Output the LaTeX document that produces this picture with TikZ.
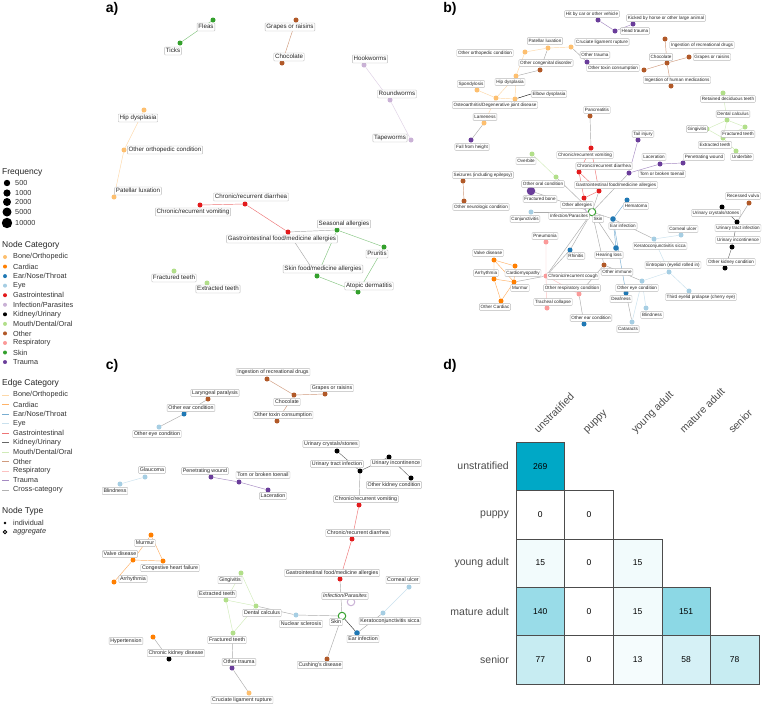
\documentclass[tikz,border=0pt]{standalone}
\usepackage{fontspec}
\setmainfont{Liberation Sans}
\usepackage{tikz}

\definecolor{kBone}{HTML}{FDBF6F}
\definecolor{kCard}{HTML}{FF7F00}
\definecolor{kEnt}{HTML}{1F78B4}
\definecolor{kEye}{HTML}{A6CEE3}
\definecolor{kGI}{HTML}{E31A1C}
\definecolor{kInf}{HTML}{CAB2D6}
\definecolor{kKid}{HTML}{000000}
\definecolor{kMouth}{HTML}{B2DF8A}
\definecolor{kOth}{HTML}{B15928}
\definecolor{kResp}{HTML}{FB9A99}
\definecolor{kSkin}{HTML}{33A02C}
\definecolor{kTrau}{HTML}{6A3D9A}
\definecolor{kHeat}{RGB}{0,168,198}

\pgfdeclarelayer{edges}
\pgfdeclarelayer{labels}
\pgfsetlayers{edges,main,labels}

\tikzset{
  dis/.style={circle, inner sep=0pt, minimum size=5pt, fill=#1},
  agg/.style={circle, inner sep=0pt, minimum size=7.5pt, draw=#1, line width=1pt, fill=white},
  labbox/.style={draw=gray!55, fill=white, rounded corners=0.8pt, line width=0.35pt, inner xsep=1.3pt, text=black!85},
  labA/.style={labbox, font=\fontsize{6.2}{7}\selectfont, text height=4.6pt, text depth=1.3pt, inner ysep=1pt},
  labB/.style={labbox, font=\fontsize{4.6}{5}\selectfont, text height=3.4pt, text depth=1pt, inner ysep=1.2pt},
  labC/.style={labbox, font=\fontsize{5.3}{6}\selectfont, text height=3.9pt, text depth=1.1pt, inner ysep=1.1pt},
  lab/.style={labA},
  ed/.style={draw=#1, line width=0.45pt, opacity=0.6},
  xed/.style={draw=gray!65, line width=0.45pt},
  legtitle/.style={anchor=west, inner sep=0pt, font=\fontsize{8.5}{9}\selectfont, text=black!85},
  legitem/.style={anchor=west, inner sep=0pt, font=\fontsize{7.3}{8}\selectfont, text=black!80},
  panel/.style={font=\fontsize{14}{14}\selectfont\bfseries, inner sep=0pt},
  cell/.style={draw=gray!60!black, line width=0.5pt, minimum width=48.6pt, minimum height=48.4pt, inner sep=0pt, font=\fontsize{8.5}{9}\selectfont},
  axlab/.style={font=\fontsize{10.5}{11}\selectfont, text=black!70, inner sep=0pt}
}

% dot, then its label box on top
\newcommand{\disease}[6][5pt]{%
  \node[dis=#3, minimum size=#1] (#2) at (#4) {};
  \begin{pgfonlayer}{labels}\node[lab] (#2l) at (#5) {#6};\end{pgfonlayer}}
\newcommand{\aggr}[6][]{%
  \node[agg=#3] (#2) at (#4) {};
  \begin{pgfonlayer}{labels}\node[lab, #1] (#2l) at (#5) {#6};\end{pgfonlayer}}

\begin{document}
\begin{tikzpicture}[x=1pt, y=-1pt]
\useasboundingbox (0,0) rectangle (763,705);
\begin{pgfonlayer}{edges}
\fill[white] (0,0) rectangle (763,705);
\end{pgfonlayer}

%%%%% PANEL A %%%%%
\node[panel] (pa) at (112,9) {a)};
\begin{scope}[lab/.style={labA}]
\disease{aFleas}{kSkin}{213,20}{206,27}{Fleas}
\disease{aTicks}{kSkin}{180,43}{173,51}{Ticks}
\disease{aGrapes}{kOth}{296,20}{290,27}{Grapes or raisins}
\disease{aChoc}{kOth}{282,63}{289,57}{Chocolate}
\disease{aHook}{kInf}{364,65}{370,59}{Hookworms}
\disease{aRound}{kInf}{390,100}{397,94}{Roundworms}
\disease{aTape}{kInf}{411,140}{390,138}{Tapeworms}
\disease{aHip}{kBone}{144,110}{138,118}{Hip dysplasia}
\disease{aOrtho}{kBone}{124,150}{165,150}{Other orthopedic condition}
\disease{aPat}{kBone}{114,197}{138,191}{Patellar luxation}
\disease{aDiar}{kGI}{245,204}{251,197}{Chronic/recurrent diarrhea}
\disease{aVom}{kGI}{200,205}{193,212}{Chronic/recurrent vomiting}
\disease{aGIall}{kGI}{288,232}{282,239}{Gastrointestinal food/medicine allergies}
\disease{aSeas}{kSkin}{337,230}{344,224}{Seasonal allergies}
\disease{aPrur}{kSkin}{384,247}{377,254}{Pruritis}
\disease{aSkinfood}{kSkin}{317,276}{323,269}{Skin food/medicine allergies}
\disease{aAtop}{kSkin}{358,292}{369,286}{Atopic dermatitis}
\disease{aFteeth}{kMouth}{174,271}{174,278}{Fractured teeth}
\disease{aExtr}{kMouth}{207,283}{218,289}{Extracted teeth}
\end{scope}
\begin{pgfonlayer}{edges}
\draw[ed=kSkin] (aFleas) -- (aTicks);
\draw[ed=kOth] (aGrapes) -- (aChoc);
\draw[ed=kInf] (aHook) -- (aRound) -- (aTape);
\draw[ed=kBone] (aHip) -- (aOrtho) -- (aPat);
\draw[ed=kGI] (aVom) -- (aDiar) -- (aGIall);
\draw[xed] (aGIall) -- (aSeas);
\draw[xed] (aGIall) -- (aSkinfood);
\draw[ed=kSkin] (aSeas) -- (aPrur) -- (aAtop);
\draw[ed=kSkin] (aSeas) -- (aSkinfood) -- (aAtop);
\end{pgfonlayer}

%%%%% LEGEND %%%%%
\node[legtitle] (freq) at (2,172) {Frequency};
\foreach \v/\r/\y [count=\i] in {500/3.2/183, 1000/3.6/193, 2000/4/202, 5000/4.5/212, 10000/5.2/223}{
  \node[circle, fill=black, inner sep=0pt, minimum size=\r*2pt] (fq\i) at (7,\y) {};
  \node[legitem] (fql\i) at (15,\y) {\v};
}
\node[legtitle] (ncat) at (2,245) {Node Category};
\foreach \cl/\nm [count=\i] in {kBone/Bone\slash Orthopedic, kCard/Cardiac, kEnt/Ear\slash Nose\slash Throat, kEye/Eye, kGI/Gastrointestinal, kInf/Infection\slash Parasites, kKid/Kidney\slash Urinary, kMouth/Mouth\slash Dental\slash Oral, kOth/Other, kResp/Respiratory, kSkin/Skin, kTrau/Trauma}{
  \node[dis=\cl, minimum size=4pt] (nc\i) at (5,{257+9.55*(\i-1)}) {};
  \node[legitem] (ncl\i) at (13,{257+9.55*(\i-1)}) {\nm};
}
\node[legtitle] (ecat) at (2,383) {Edge Category};
\foreach \cl/\nm [count=\i] in {kBone/Bone\slash Orthopedic, kCard/Cardiac, kEnt/Ear\slash Nose\slash Throat, kEye/Eye, kGI/Gastrointestinal, kKid/Kidney\slash Urinary, kMouth/Mouth\slash Dental\slash Oral, kOth/Other, kResp/Respiratory, kTrau/Trauma, gray/Cross-category}{
  \coordinate (ec\i) at (2,{395+9.5*(\i-1)});
  \coordinate (ece\i) at (9,{395+9.5*(\i-1)});
  \draw[ed=\cl] (ec\i) -- (ece\i);
  \node[legitem] (ecl\i) at (13,{395+9.5*(\i-1)}) {\nm};
}
\node[legtitle] (ntype) at (2,511) {Node Type};
\node[dis=black, minimum size=2.8pt] (nt1) at (5,523) {};
\node[legitem] (ntl1) at (13,523) {individual};
\node[circle, draw=black, line width=0.9pt, inner sep=0pt, minimum size=3.6pt] (nt2) at (5,532) {};
\node[legitem] (ntl2) at (13,532) {\itshape aggregate};

%%%%% PANEL B %%%%%
\node[panel] (pb) at (450,9) {b)};
\begin{scope}[lab/.style={labB}]
\disease{bHit}{kTrau}{598,20}{592,14}{Hit by car or other vehicle}
\disease{bKick}{kTrau}{633,24}{666,18}{Kicked by horse or other large animal}
\disease{bHead}{kTrau}{615,31}{635,31}{Head trauma}
\disease{bPat}{kBone}{548,48}{545,41}{Patellar luxation}
\disease{bCruc}{kBone}{571,47}{602,42}{Cruciate ligament rupture}
\disease{bOrtho}{kBone}{525,52}{485,53}{Other orthopedic condition}
\disease{bOtrau}{kTrau}{587,62}{595,55}{Other trauma}
\disease{bCong}{kOth}{540,70}{546,63}{Other congenital disorder}
\disease{bToxin}{kOth}{644,70}{613,68}{Other toxin consumption}
\disease{bChoc}{kOth}{667,63}{661,57}{Chocolate}
\disease{bDrugs}{kOth}{665,39}{702,45}{Ingestion of recreational drugs}
\disease{bGrapes}{kOth}{689,57}{712,57}{Grapes or raisins}
\disease{bMeds}{kOth}{671,86}{677,80}{Ingestion of human medications}
\disease{bHip}{kBone}{516,76}{510,82}{Hip dysplasia}
\disease{bSpond}{kBone}{477,90}{471,84}{Spondylosis}
\disease{bElbow}{kBone}{515,99}{549,94}{Elbow dysplasia}
\disease{bOsteo}{kBone}{496,98}{495,105}{Osteoarthritis/Degenerative joint disease}
\disease{bLame}{kBone}{484,123}{485,117}{Lameness}
\disease{bFall}{kTrau}{471,140}{472,147}{Fall from height}
\disease{bOverbite}{kMouth}{532,154}{526,161}{Overbite}
\disease{bSeiz}{kOth}{463,181}{483,175}{Seizures (including epilepsy)}
\disease{bNeuro}{kOth}{464,201}{481,207}{Other neurologic condition}
\disease{bRetain}{kMouth}{723,93}{728,99}{Retained deciduous teeth}
\disease{bCalc}{kMouth}{727,120}{733,114}{Dental calculus}
\disease{bGing}{kMouth}{707,129}{697,129}{Gingivitis}
\disease{bFteeth}{kMouth}{745,127}{738,134}{Fractured teeth}
\disease{bExtr}{kMouth}{723,138}{715,145}{Extracted teeth}
\disease{bUnder}{kMouth}{736,151}{742,157}{Underbite}
\disease{bPanc}{kOth}{590,116}{597,110}{Pancreatitis}
\disease{bTail}{kTrau}{638,140}{643,134}{Tail injury}
\disease{bLac}{kTrau}{660,164}{654,157}{Laceration}
\disease{bPen}{kTrau}{683,163}{704,157}{Penetrating wound}
\disease{bToe}{kTrau}{629,173}{662,174}{Torn or broken toenail}
\disease{bVom}{kGI}{591,148}{585,155}{Chronic/recurrent vomiting}
\disease{bDiar}{kGI}{579,172}{604,166}{Chronic/recurrent diarrhea}
\disease{bGIall}{kGI}{599,191}{616,185}{Gastrointestinal food/medicine allergies}
\disease{bOall}{kGI}{584,198}{577,205}{Other allergies}
\disease{bOral}{kMouth}{556,177}{543,184}{Other oral condition}
\disease[8.5pt]{bFbone}{kTrau}{531,191}{540,199}{Fractured bone}
\disease{bConj}{kEye}{531,212}{525,219}{Conjunctivitis}
\disease{bHema}{kEnt}{627,200}{636,206}{Hematoma}
\disease[5.6pt]{bEarinf}{kEnt}{613,219}{623,226}{Ear infection}
\disease{bPneu}{kResp}{546,242}{545,236}{Pneumonia}
\disease{bKcs}{kEye}{654,239}{660,246}{Keratoconjunctivitis sicca}
\disease{bCorn}{kEye}{681,235}{683,229}{Corneal ulcer}
\disease[5.6pt]{bHear}{kEnt}{616,248}{609,255}{Hearing loss}
\disease{bRhin}{kEnt}{570,250}{576,256}{Rhinitis}
\disease{bImm}{kOth}{604,265}{617,272}{Other immune}
\disease{bEntr}{kEye}{669,272}{673,265}{Entropion (eyelid rolled in)}
\disease{bCough}{kResp}{546,276}{573,276}{Chronic/recurrent cough}
\disease{bOresp}{kResp}{579,294}{572,288}{Other respiratory condition}
\disease{bOeye}{kEye}{642,281}{637,288}{Other eye condition}
\disease{bDeaf}{kEnt}{626,293}{621,299}{Deafness}
\disease{bCherry}{kEye}{689,291}{701,297}{Third eyelid prolapse (cherry eye)}
\disease{bBlind}{kEye}{646,308}{652,315}{Blindness}
\disease{bCat}{kEye}{632,322}{628,329}{Cataracts}
\disease{bOear}{kEnt}{584,324}{591,318}{Other ear condition}
\disease{bTrach}{kResp}{547,308}{553,302}{Tracheal collapse}
\disease{bValve}{kCard}{494,260}{488,253}{Valve disease}
\disease{bCardio}{kCard}{515,266}{523,273}{Cardiomyopathy}
\disease{bArr}{kCard}{494,279}{486,273}{Arrhythmia}
\disease{bMur}{kCard}{514,282}{520,288}{Murmur}
\disease{bOcard}{kCard}{501,301}{495,307}{Other Cardiac}
\disease{bVulva}{kOth}{749,203}{743,196}{Recessed vulva}
\disease{bCryst}{kKid}{722,207}{716,213}{Urinary crystals/stones}
\disease{bUti}{kKid}{737,222}{738,228}{Urinary tract infection}
\disease{bIncon}{kKid}{732,247}{738,240}{Urinary incontinence}
\disease{bOkid}{kKid}{725,268}{731,262}{Other kidney condition}
\aggr[font=\fontsize{4.6}{5}\selectfont\itshape]{bInf}{kInf}{589,209}{569,216}{Infection/Parasites}
\aggr{bSkin}{kSkin}{592,212}{598,219}{Skin}
\end{scope}
\begin{pgfonlayer}{edges}
\draw[ed=kTrau] (bHit) -- (bHead) -- (bKick);
\draw[ed=kBone] (bOrtho) -- (bPat) -- (bCruc);
\draw[ed=kBone] (bOrtho) -- (bHip) -- (bOsteo) -- (bElbow) -- (bHip);
\draw[ed=kBone] (bSpond) -- (bOsteo) -- (bLame);
\draw[xed] (bPat) -- (bCong) -- (bHip);
\draw[xed] (bLame) -- (bFall);
\draw[xed] (bCruc) -- (bOtrau);
\draw[ed=kOth] (bDrugs) -- (bChoc) -- (bGrapes);
\draw[ed=kOth] (bToxin) -- (bChoc) -- (bMeds);
\draw[ed=kOth] (bSeiz) -- (bNeuro);
\draw[ed=kMouth] (bOverbite) -- (bOral);
\draw[xed] (bPanc) -- (bVom);
\draw[ed=kGI] (bVom) -- (bDiar) -- (bGIall) -- (bVom);
\draw[ed=kGI] (bDiar) -- (bOall) -- (bGIall);
\draw[ed=kTrau] (bTail) -- (bToe) -- (bLac) -- (bPen);
\draw[xed] (bToe) -- (bSkin);
\draw[xed] (bOral) -- (bSkin);
\draw[xed] (bFbone) -- (bSkin);
\draw[xed] (bConj) -- (bSkin);
\draw[xed] (bGIall) -- (bSkin);
\draw[xed] (bOall) -- (bSkin);
\draw[xed] (bEarinf) -- (bSkin);
\draw[xed] (bSkin) -- (bRhin);
\draw[xed] (bSkin) -- (bHear);
\draw[xed] (bSkin) -- (bImm);
\draw[xed] (bSkin) -- (bCough);
\draw[ed=kEnt] (bHema) -- (bEarinf) -- (bDeaf);
\draw[ed=kEnt] (bEarinf) -- (bHear);
\draw[xed] (bEarinf) -- (bKcs);
\draw[ed=kEye] (bCorn) -- (bKcs) -- (bEntr) -- (bCherry);
\draw[ed=kEye] (bEntr) -- (bOeye) -- (bBlind);
\draw[ed=kEye] (bOeye) -- (bCat);
\draw[xed] (bImm) -- (bOeye);
\draw[xed] (bDeaf) -- (bCat);
\draw[xed] (bCough) -- (bRhin);
\draw[xed] (bOresp) -- (bImm);
\draw[xed] (bOresp) -- (bOear);
\draw[ed=kResp] (bPneu) -- (bCough) -- (bTrach);
\draw[ed=kResp] (bCough) -- (bOresp);
\draw[xed] (bMur) -- (bCough);
\draw[ed=kCard] (bValve) -- (bCardio) -- (bMur) -- (bArr) -- (bValve) -- (bMur);
\draw[ed=kCard] (bArr) -- (bOcard) -- (bMur);
\draw[xed] (bVulva) -- (bUti);
\draw[ed=kKid] (bCryst) -- (bUti) -- (bIncon) -- (bOkid);
\draw[ed=kMouth] (bRetain) -- (bCalc) -- (bGing) -- (bExtr) -- (bCalc) -- (bFteeth) -- (bExtr) -- (bUnder);
\end{pgfonlayer}
\draw[line width=0.4pt] (bElbow) -- (bElbowl.west);

%%%%% PANEL C %%%%%
\node[panel] (pc) at (112,366) {c)};
\begin{scope}[lab/.style={labC}]
\disease{cDrugs}{kOth}{267,379}{273,372}{Ingestion of recreational drugs}
\disease{cGrapes}{kOth}{325,394}{332,388}{Grapes or raisins}
\disease{cChoc}{kOth}{294,395}{287,402}{Chocolate}
\disease{cToxin}{kOth}{277,421}{283,415}{Other toxin consumption}
\disease{cLaryn}{kOth}{208,399}{215,393}{Laryngeal paralysis}
\disease{cOear}{kEnt}{184,414}{191,408}{Other ear condition}
\disease{cOeye}{kEye}{159,427}{157,434}{Other eye condition}
\disease{cGlau}{kEye}{145,477}{152,470}{Glaucoma}
\disease{cBlind}{kEye}{120,484}{115,491}{Blindness}
\disease{cPen}{kTrau}{211,477}{205,471}{Penetrating wound}
\disease{cToe}{kTrau}{239,482}{263,475}{Torn or broken toenail}
\disease{cLac}{kTrau}{268,490}{273,496}{Laceration}
\disease{cCryst}{kKid}{337,451}{331,444}{Urinary crystals/stones}
\disease{cUti}{kKid}{360,471}{337,464}{Urinary tract infection}
\disease{cIncon}{kKid}{389,457}{396,463}{Urinary incontinence}
\disease{cOkid}{kKid}{411,478}{394,485}{Other kidney condition}
\disease{cVom}{kGI}{359,505}{366,499}{Chronic/recurrent vomiting}
\disease{cDiar}{kGI}{352,539}{358,533}{Chronic/recurrent diarrhea}
\disease{cGIall}{kGI}{340,579}{332,573}{Gastrointestinal food/medicine allergies}
\disease{cKcs}{kEye}{383,613}{390,621}{Keratoconjunctivitis sicca}
\disease{cCorn}{kEye}{409,587}{403,580}{Corneal ulcer}
\disease[5.6pt]{cEarinf}{kEnt}{357,633}{363,639}{Ear infection}
\disease{cCush}{kOth}{327,659}{320,665}{Cushing's disease}
\disease{cNucl}{kEye}{296,615}{301,624}{Nuclear sclerosis}
\disease{cCalc}{kMouth}{256,606}{262,613}{Dental calculus}
\disease{cGing}{kMouth}{241,573}{230,580}{Gingivitis}
\disease{cExtr}{kMouth}{226,600}{217,594}{Extracted teeth}
\disease{cFteeth}{kMouth}{233,633}{227,640}{Fractured teeth}
\disease{cOtrau}{kTrau}{232,668}{239,662}{Other trauma}
\disease{cCruc}{kBone}{249,693}{242,700}{Cruciate ligament rupture}
\disease{cMur}{kCard}{151,535}{145,543}{Murmur}
\disease{cChf}{kCard}{163,561}{170,568}{Congestive heart failure}
\disease{cValve}{kCard}{133,560}{120,554}{Valve disease}
\disease{cArr}{kCard}{114,582}{133,579}{Arrhythmia}
\disease{cHyper}{kCard}{153,637}{126,641}{Hypertension}
\disease{cCkd}{kKid}{169,659}{176,653}{Chronic kidney disease}
\aggr[font=\fontsize{5.3}{6}\selectfont\itshape]{cInf}{kInf}{351,602}{345,596}{Infection/Parasites}
\aggr{cSkin}{kSkin}{342,616}{336,622}{Skin}
\end{scope}
\begin{pgfonlayer}{edges}
\draw[ed=kOth] (cDrugs) -- (cChoc) -- (cGrapes);
\draw[ed=kOth] (cChoc) -- (cToxin);
\draw[xed] (cLaryn) -- (cOear) -- (cOeye);
\draw[ed=kEye] (cGlau) -- (cBlind);
\draw[ed=kTrau] (cPen) -- (cToe) -- (cLac);
\draw[ed=kKid] (cCryst) -- (cUti) -- (cIncon) -- (cOkid);
\draw[xed] (cUti) -- (cVom);
\draw[ed=kGI] (cVom) -- (cDiar) -- (cGIall);
\draw[xed] (cGIall) -- (cSkin);
\draw[xed] (cSkin) -- (cNucl) -- (cCalc);
\draw[xed] (cSkin) -- (cCush);
\draw[draw=gray!40!black, line width=0.45pt] (cSkin) -- (cEarinf);
\draw[xed] (cEarinf) -- (cKcs);
\draw[ed=kEye] (cKcs) -- (cCorn);
\draw[ed=kMouth] (cGing) -- (cExtr) -- (cCalc) -- (cGing);
\draw[ed=kMouth] (cExtr) -- (cFteeth) -- (cCalc);
\draw[xed] (cFteeth) -- (cOtrau) -- (cCruc);
\draw[ed=kCard] (cMur) -- (cChf) -- (cValve) -- (cMur);
\draw[ed=kCard] (cValve) -- (cArr);
\draw[xed] (cHyper) -- (cCkd);
\end{pgfonlayer}

%%%%% PANEL D %%%%%
\node[panel] (pd) at (450,366) {d)};
\foreach \r/\c/\v/\p in {1/1/269/100, 2/1/0/0, 2/2/0/0, 3/1/15/5, 3/2/0/0, 3/3/15/5,
  4/1/140/40, 4/2/0/0, 4/3/15/5, 4/4/151/45, 5/1/77/22, 5/2/0/0, 5/3/13/4, 5/4/58/16, 5/5/78/22}{
  \node[cell, fill=kHeat!\p!white] (d\r\c) at ({516+48.6*(\c-0.5)},{442+48.4*(\r-0.5)}) {\v};
}
\foreach \nm [count=\i] in {unstratified, puppy, young adult, mature adult, senior}{
  \node[axlab, anchor=east] (row\i) at (509,{442+48.4*(\i-0.5)}) {\nm};
  \node[axlab, anchor=base west, rotate=45] (col\i) at ({516+48.6*(\i-0.5)-2},434) {\nm};
}
\end{tikzpicture}
\end{document}
